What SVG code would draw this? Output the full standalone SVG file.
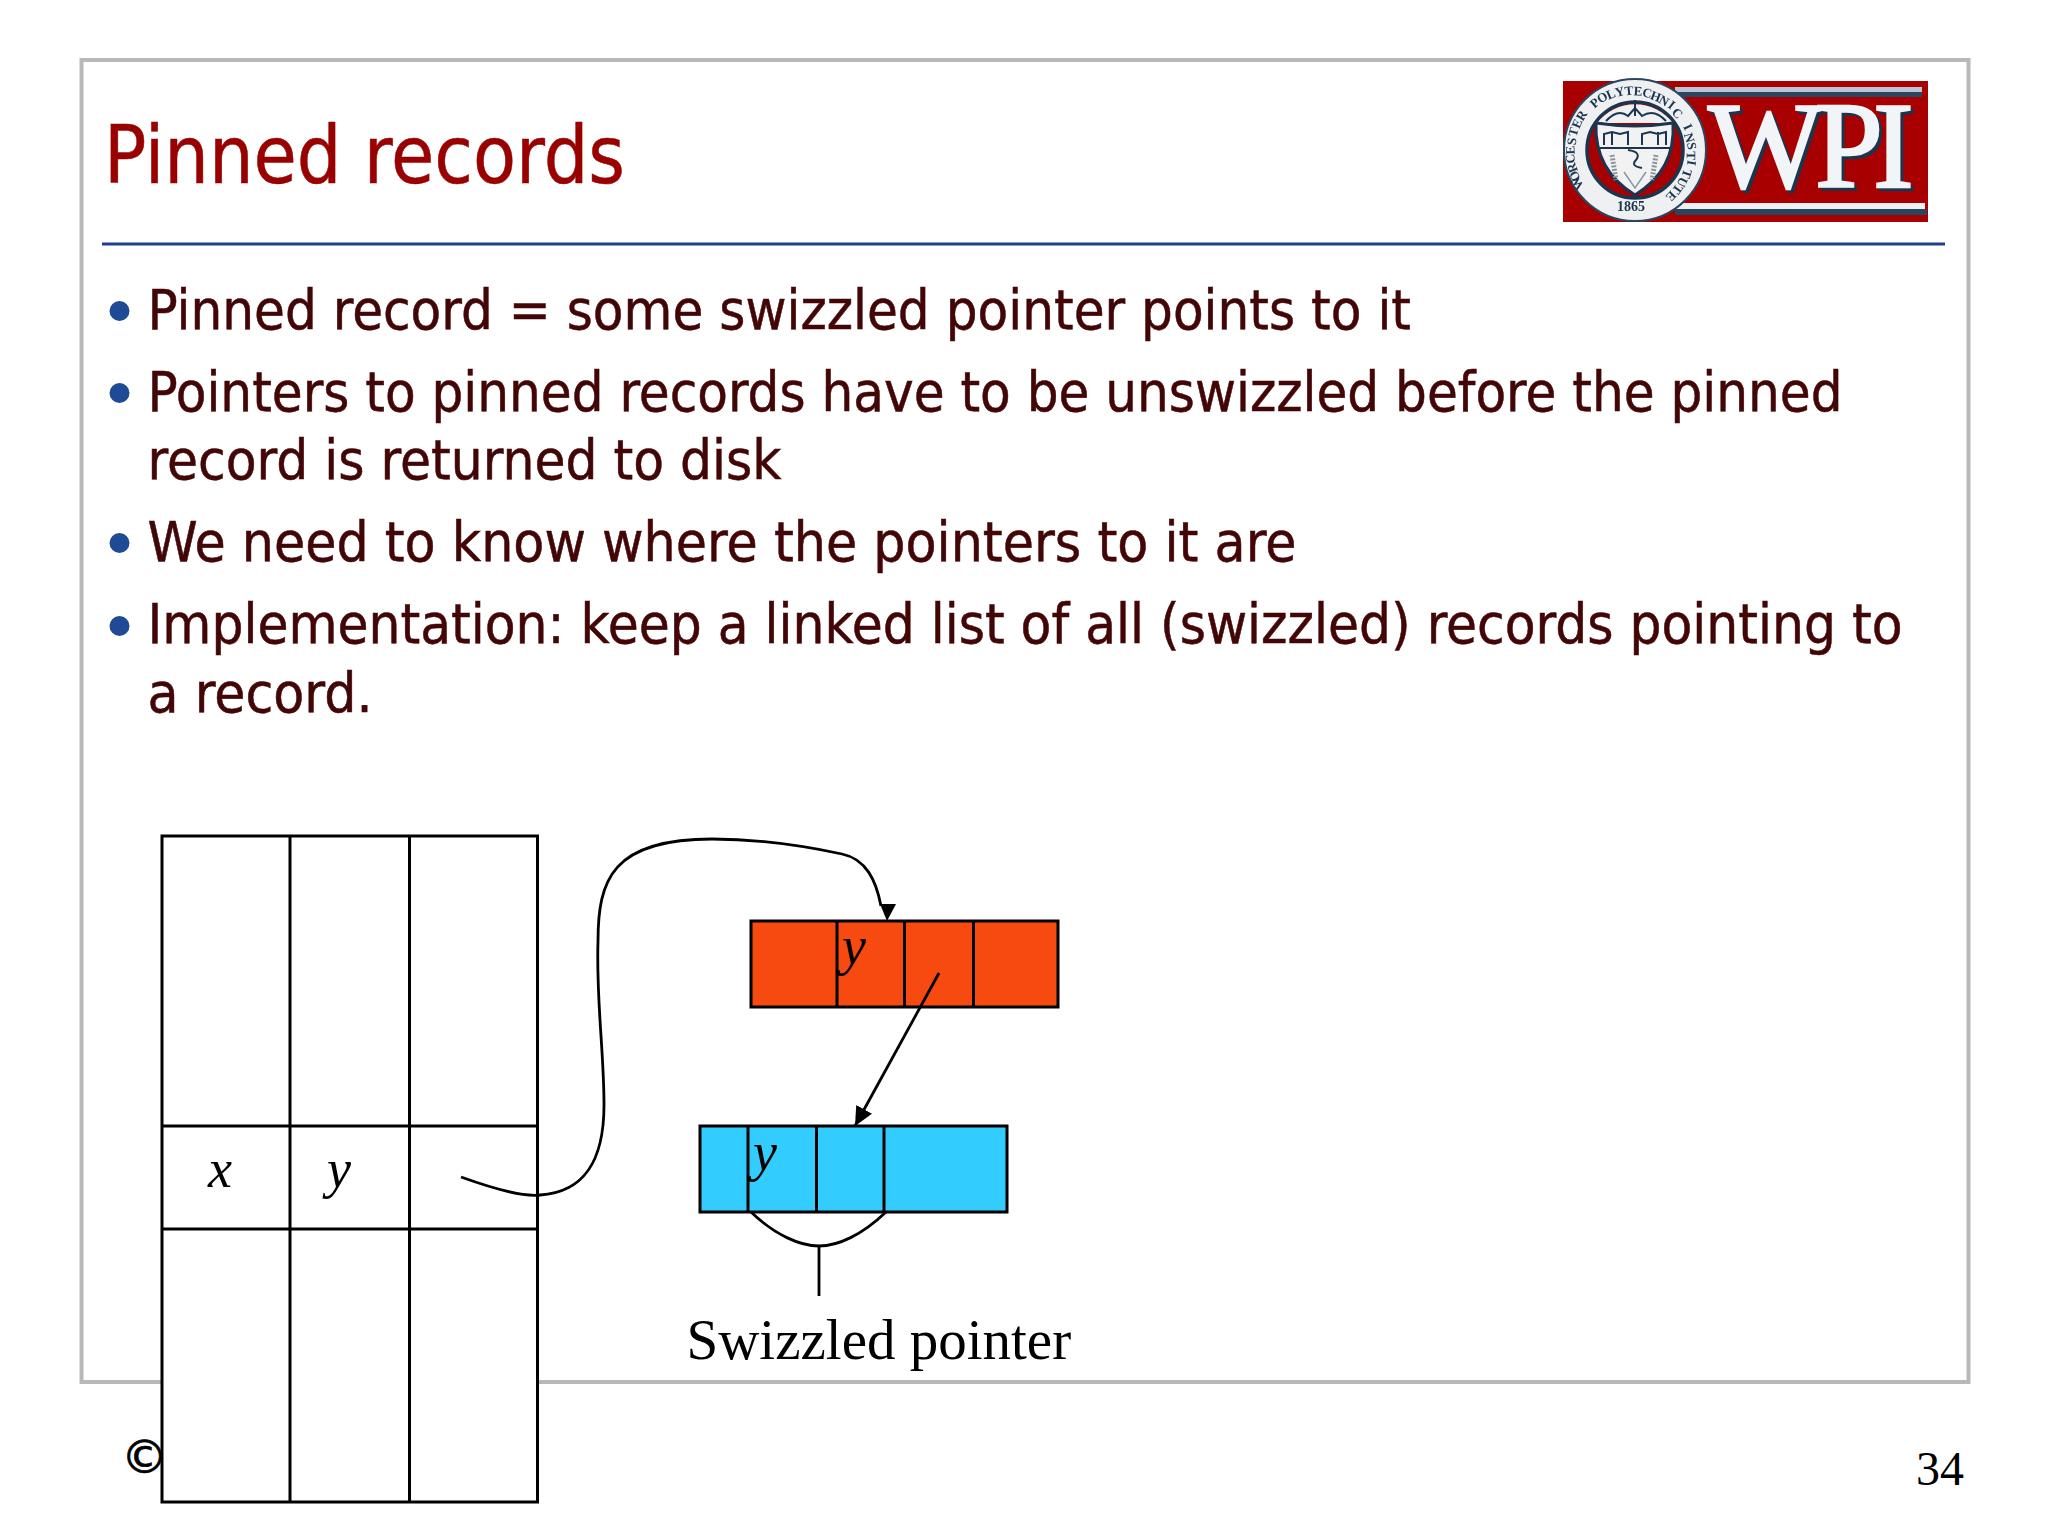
<svg xmlns="http://www.w3.org/2000/svg" width="2048" height="1536" viewBox="0 0 2048 1536">
<style>
.body{font-family:"DejaVu Sans Condensed","DejaVu Sans",sans-serif;font-size:55px;fill:#430606;stroke:#430606;stroke-width:.5}
.bullet{fill:#1f4a96}
.cell{fill:none;stroke:#000;stroke-width:3}
.var{font-family:"Liberation Serif",serif;font-style:italic;font-size:54px;fill:#000}
.serif{font-family:"Liberation Serif",serif;fill:#000}
.wire{fill:none;stroke:#000;stroke-width:2.8}
.wpi{font-family:"Liberation Serif",serif;font-size:122px;stroke-width:2.500}
.seal{font-family:"Liberation Serif",serif;font-weight:bold;font-size:13px;fill:#1d3550}
.dk{fill:none;stroke:#1d3550;stroke-width:2}
</style>
<defs>
<marker id="arrow" markerUnits="userSpaceOnUse" markerWidth="20" markerHeight="18" refX="19" refY="9" orient="auto"><path d="M0 0L19 9L0 18Z" fill="#000"/></marker>
<marker id="arrowDown" markerUnits="userSpaceOnUse" markerWidth="18" markerHeight="18" refX="1" refY="2" orient="0"><path d="M0 0H16L7 17Z" fill="#000"/></marker>
<filter id="soft" x="-5%" y="-5%" width="110%" height="110%"><feGaussianBlur stdDeviation="0.6"/></filter>
</defs>
<rect width="2048" height="1536" fill="#fff"/>
<rect id="frame" x="81.500" y="60" width="1887" height="1322" fill="#fff" stroke="#b8b8b8" stroke-width="4"/>
<g id="title"><text x="104" y="183" textLength="521" lengthAdjust="spacingAndGlyphs" font-family="'DejaVu Sans Condensed','DejaVu Sans',sans-serif" font-size="80" fill="#990000" stroke="#990000" stroke-width=".5">Pinned records</text></g>
<line id="rule" x1="102" y1="244" x2="1945" y2="244" stroke="#1f3f8f" stroke-width="3"/>
<g id="logo" filter="url(#soft)">
<rect x="1563" y="81" width="365" height="141" fill="#a80000"/>
<rect x="1675" y="87" width="247" height="5" fill="#b9c6d2"/>
<rect x="1675" y="92" width="247" height="5" fill="#2a4560"/>
<rect x="1675" y="203" width="250" height="6" fill="#eef1f4"/>
<rect x="1675" y="209" width="252" height="6" fill="#2a4560"/>
<text class="wpi" x="1711 1818 1876" y="190" fill="#1d3550" stroke="#1d3550">WPI</text>
<text class="wpi" x="1708 1815 1873" y="187" fill="#f2f5f8" stroke="#f2f5f8">WPI</text>
<circle cx="1635" cy="150" r="71" fill="#eef0f2" stroke="#2a4560" stroke-width="2"/>
<circle cx="1635" cy="150" r="48" fill="#a80000" stroke="#1d3550" stroke-width="3.500"/>
<path d="M1597 123A48 48 0 0 1 1673 123Z" fill="#eef0f2"/>
<path d="M1606 121Q1618 108 1628 116L1635 108L1642 116Q1654 108 1666 121" class="dk"/>
<path d="M1635 100V116" class="dk"/>
<path d="M1596 123Q1635 129 1673 123Q1676 170 1635 195Q1594 170 1596 123Z" fill="#f2f2f2" stroke="#1d3550" stroke-width="3"/>
<path d="M1600 148H1670M1604 145V134L1612 132L1620 134L1628 132V145M1642 145V134L1650 132L1658 134L1666 132V145M1612 132V145M1658 132V145" class="dk" stroke-width="1.500"/>
<path d="M1628 150Q1642 152 1636 160Q1630 166 1642 168" class="dk" stroke-width="3"/>
<path d="M1612 155L1616 180M1656 155L1652 180" fill="none" stroke="#8a96a2" stroke-width="5" stroke-dasharray="2 1.500"/>
<path d="M1624 172L1635 188L1646 172" fill="none" stroke="#8a96a2" stroke-width="1.500"/>
<text class="seal" text-anchor="middle" transform="rotate(-2 1635 150)" x="1589.700 1585.200 1581.900 1579.800 1579 1579.500 1581.300 1584.300 1588.500 1593.800 1600 1607 1614.700 1622.900 1631.300 1639.800 1648.300 1656.300 1664 1670.900 1677 1682.200 1686.200 1689 1690.700 1691 1690 1687.700 1684.300 1679.700 1674" y="183.900 176.700 168.800 160.500 152.100 143.500 135.200 127.300 119.900 113.100 107.300 102.500 98.800 96.300 95.100 95.200 96.600 99.200 103.100 108 114 120.800 128.200 136.300 144.700 153.100 161.600 169.900 177.700 184.800 191.200" rotate="-126 -117.300 -108.500 -99.800 -91.100 -82.300 -73.600 -64.900 -56.200 -47.400 -38.700 -30 -21.200 -12.500 -3.800 4.900 13.700 22.400 31.100 39.900 48.600 57.300 66 74.800 83.500 92.200 100.900 109.700 118.400 127.100 135.900">WORCESTER POLYTECHNIC INSTITUTE</text>
<text class="seal" x="1617" y="211" style="font-size:14px">1865</text>
</g>
<g id="bullets">
<ellipse class="bullet" cx="119.500" cy="311" rx="10" ry="10"/>
<ellipse class="bullet" cx="119.500" cy="393" rx="10" ry="10"/>
<ellipse class="bullet" cx="119.500" cy="543" rx="10" ry="10"/>
<ellipse class="bullet" cx="119.500" cy="626" rx="10" ry="10"/>
</g>
<g id="body">
<text class="body" x="147.500" y="329" textLength="1263.500" lengthAdjust="spacingAndGlyphs">Pinned record = some swizzled pointer points to it</text>
<text class="body" x="147.500" y="411" textLength="1695" lengthAdjust="spacingAndGlyphs">Pointers to pinned records have to be unswizzled before the pinned</text>
<text class="body" x="147.500" y="479" textLength="634" lengthAdjust="spacingAndGlyphs">record is returned to disk</text>
<text class="body" x="147.500" y="561" textLength="1149" lengthAdjust="spacingAndGlyphs">We need to know where the pointers to it are</text>
<text class="body" x="147.500" y="643" textLength="1755" lengthAdjust="spacingAndGlyphs">Implementation: keep a linked list of all (swizzled) records pointing to</text>
<text class="body" x="147.500" y="712" textLength="225" lengthAdjust="spacingAndGlyphs">a record.</text>
</g>
<text id="copyright" x="121" y="1473" font-family="'DejaVu Sans',sans-serif" font-size="47" fill="#000" stroke="#000" stroke-width=".7">©</text>
<text id="page" class="serif" x="1916" y="1485" font-size="48">34</text>
<g id="table">
<rect x="162" y="836" width="375.500" height="666" fill="#fff" stroke="#000" stroke-width="3"/>
<path class="cell" d="M290 836V1502M409.500 836V1502M162 1126H537.500M162 1229H537.500"/>
<text class="var" x="208" y="1187">x</text>
<text class="var" x="327" y="1187">y</text>
</g>
<g id="red-record">
<rect x="751" y="921" width="307" height="86" fill="#f64a10" stroke="#000" stroke-width="3"/>
<path class="cell" d="M837 921V1007M904.500 921V1007M973.500 921V1007"/>
<text class="var" x="842" y="964">y</text>
</g>
<g id="blue-record">
<rect x="700" y="1126" width="307" height="86" fill="#33ccff" stroke="#000" stroke-width="3"/>
<path class="cell" d="M748 1126V1212M816.500 1126V1212M884 1126V1212"/>
<text class="var" x="753" y="1170">y</text>
</g>
<g id="connectors">
<path class="wire" marker-end="url(#arrowDown)" d="M461 1177C500 1191 525 1197 540 1195C585 1192 604 1160 604 1105C604 1050 596 1000 598 941C598 880 612 839 712 839C752 839 800 845 842 854C866 859 876 880 881 906"/>
<path class="wire" marker-end="url(#arrow)" d="M939 973L855 1126"/>
<path class="wire" d="M751 1212C775 1235 800 1246 819 1246C838 1246 862 1235 886 1212M819 1246V1296"/>
</g>
<text id="swizzled-label" class="serif" x="686.500" y="1359" font-size="57">Swizzled pointer</text>
</svg>
